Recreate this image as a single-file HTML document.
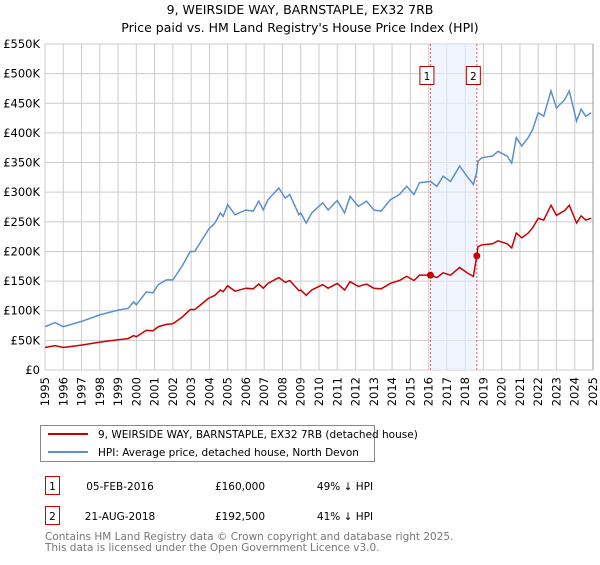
<!DOCTYPE html>
<html><head><meta charset="utf-8"><style>
body{margin:0;background:#fff;font-family:"Liberation Sans","DejaVu Sans",sans-serif;}
svg text{font-family:"DejaVu Sans","Liberation Sans",sans-serif;}
</style></head><body>
<svg id="chart" width="600" height="560" xmlns="http://www.w3.org/2000/svg">
<text x="300" y="14" text-anchor="middle" font-size="12.5">9, WEIRSIDE WAY, BARNSTAPLE, EX32 7RB</text>
<text x="300" y="32" text-anchor="middle" font-size="12.5">Price paid vs. HM Land Registry's House Price Index (HPI)</text>
<g id="grid"></g><g id="marks"></g><g id="axes"></g>
<g>
<rect x="40.5" y="425.5" width="334" height="36" fill="#fff" stroke="#888"/>
<line x1="48" y1="434" x2="88" y2="434" stroke="#cc0000" stroke-width="2"/>
<text x="98" y="438" font-size="10.5">9, WEIRSIDE WAY, BARNSTAPLE, EX32 7RB (detached house)</text>
<line x1="48" y1="452" x2="88" y2="452" stroke="#5b8fd0" stroke-width="2"/>
<text x="98" y="456" font-size="10.5">HPI: Average price, detached house, North Devon</text>
</g>
<g font-size="10.5">
<rect x="45.5" y="476.5" width="14" height="18" fill="#fff" stroke="#cc0000"/>
<text x="52.5" y="490" text-anchor="middle">1</text>
<text x="120" y="490" text-anchor="middle">05-FEB-2016</text>
<text x="240" y="490" text-anchor="middle">£160,000</text>
<text x="345" y="490" text-anchor="middle">49% ↓ HPI</text>
</g>
<g font-size="10.5">
<rect x="45.5" y="506.5" width="14" height="18" fill="#fff" stroke="#cc0000"/>
<text x="52.5" y="520" text-anchor="middle">2</text>
<text x="120" y="520" text-anchor="middle">21-AUG-2018</text>
<text x="240" y="520" text-anchor="middle">£192,500</text>
<text x="345" y="520" text-anchor="middle">41% ↓ HPI</text>
</g>
<text x="45" y="540" font-size="10.5" fill="#777">Contains HM Land Registry data © Crown copyright and database right 2025.</text>
<text x="45" y="551" font-size="10.5" fill="#777">This data is licensed under the Open Government Licence v3.0.</text>
</svg>
<script>
const hpiYears=[1995,1995.55,1996,1997,1998,1999,1999.55,1999.85,2000,2000.55,2000.9,2001.2,2001.65,2002,2002.5,2002.95,2003.2,2003.6,2003.95,2004.3,2004.6,2004.75,2005,2005.4,2006,2006.4,2006.7,2006.95,2007.2,2007.8,2008.15,2008.4,2008.9,2009,2009.3,2009.6,2010.2,2010.5,2011,2011.4,2011.7,2012.15,2012.6,2013,2013.4,2013.9,2014.4,2014.8,2015.2,2015.5,2016.1,2016.45,2016.8,2017.2,2017.7,2018.1,2018.45,2018.64,2018.7,2018.9,2019.5,2019.8,2020.3,2020.55,2020.8,2021.1,2021.45,2021.7,2022,2022.3,2022.7,2023,2023.45,2023.7,2024.1,2024.35,2024.6,2024.9];
const hpiValues=[73,80,73,82,93,101,104,115,110,132,130,144,152,152,175,200,200,220,237,248,265,259,279,262,270,268,285,270,287,307,290,296,262,265,248,265,282,270,286,265,293,276,285,270,268,287,296,310,296,316,318,310,327,318,344,327,313,335,352,358,361,369,361,349,392,378,392,406,434,428,471,442,456,471,420,440,428,434];
const priceYears=[1995,1995.55,1996,1997,1998,1999,1999.55,1999.85,2000,2000.55,2000.9,2001.2,2001.65,2002,2002.5,2002.95,2003.2,2003.6,2003.95,2004.3,2004.6,2004.75,2005,2005.4,2006,2006.4,2006.7,2006.95,2007.2,2007.8,2008.15,2008.4,2008.9,2009,2009.3,2009.6,2010.2,2010.5,2011,2011.4,2011.7,2012.15,2012.6,2013,2013.4,2013.9,2014.4,2014.8,2015.2,2015.5,2016.1,2016.45,2016.8,2017.2,2017.7,2018.1,2018.45,2018.64,2018.7,2018.9,2019.5,2019.8,2020.3,2020.55,2020.8,2021.1,2021.45,2021.7,2022,2022.3,2022.7,2023,2023.45,2023.7,2024.1,2024.35,2024.6,2024.9];
const priceValues=[38,41,38,42,47,51,53,58,56,67,66,73,77,78,89,102,102,112,121,126,135,132,142,133,138,137,145,138,146,156,148,151,134,135,126,135,144,138,146,135,149,141,145,138,137,146,151,158,151,160,160,156,164,160,173,164,158,192.5,208,211,213,218,213,206,231,223,231,240,256,253,278,261,269,278,248,260,253,256];
const saleYears=[2016.1,2018.64];
const saleValues=[160,192.5];
const saleLabels=["1","2"];
const yTicks=[0,50,100,150,200,250,300,350,400,450,500,550];
const yTickLabels=["£0","£50K","£100K","£150K","£200K","£250K","£300K","£350K","£400K","£450K","£500K","£550K"];
const xTicks=[1995,1996,1997,1998,1999,2000,2001,2002,2003,2004,2005,2006,2007,2008,2009,2010,2011,2012,2013,2014,2015,2016,2017,2018,2019,2020,2021,2022,2023,2024,2025];

const X0=45,X1=593,Y0=370,Y1=44;
const x=y=>X0+(y-1995)/30*(X1-X0);
const yv=v=>Y0-v/550*(Y0-Y1);
const NS="http://www.w3.org/2000/svg";
function mk(parent,tag,attrs){const e=document.createElementNS(NS,tag);for(const k in attrs)e.setAttribute(k,attrs[k]);document.getElementById(parent).appendChild(e);return e;}
// grid
xTicks.forEach(t=>{const l=mk('grid','line',{x1:x(t),x2:x(t),y1:Y1,y2:Y0,stroke:'#cccccc','stroke-width':1});


const tx=mk('axes','text',{x:0,y:0,'font-size':11.5,'text-anchor':'end',transform:`translate(${x(t)+4},${Y0+7}) rotate(-90)`});
tx.textContent=t;

});
yTicks.forEach((t,i)=>{const l=mk('grid','line',{x1:X0,x2:X1,y1:yv(t),y2:yv(t),stroke:'#cccccc','stroke-width':1});


const tx=mk('axes','text',{x:40,y:yv(t)+4,'font-size':11.5,'text-anchor':'end'});
tx.textContent=yTickLabels[i];

});
const border=mk('axes','line',{x1:X1,x2:X1,y1:Y1,y2:Y0,stroke:'#999','stroke-width':1});


// shaded band
const band=mk('marks','rect',{x:x(saleYears[0]),y:Y1,width:x(saleYears[1])-x(saleYears[0]),height:Y0-Y1,fill:'#e8efff','fill-opacity':0.6});


saleYears.forEach((s,i)=>{const l=mk('marks','line',{x1:x(s),x2:x(s),y1:Y1,y2:Y0,stroke:'#e06060','stroke-dasharray':'2,2','stroke-width':1});

});
const hp=mk('marks','polyline',{points:hpiYears.map((t,i)=>x(t)+','+yv(hpiValues[i])).join(' '),fill:'none',stroke:'#5b8fd0','stroke-width':1.5});


const pp=mk('marks','polyline',{points:priceYears.map((t,i)=>x(t)+','+yv(priceValues[i])).join(' '),fill:'none',stroke:'#cc0000','stroke-width':1.5});


saleYears.forEach((s,i)=>{const c=mk('marks','circle',{cx:x(s),cy:yv(saleValues[i]),r:3.5,fill:'#cc0000'});


const r=mk('marks','rect',{x:x(s)-10.5,y:66.5,width:14,height:18,fill:'#fff',stroke:'#aa0000'});


const tx=mk('marks','text',{x:x(s)-3.5,y:80,'font-size':10.5,'text-anchor':'middle'});
tx.textContent=saleLabels[i];

});
</script>
</body></html>
